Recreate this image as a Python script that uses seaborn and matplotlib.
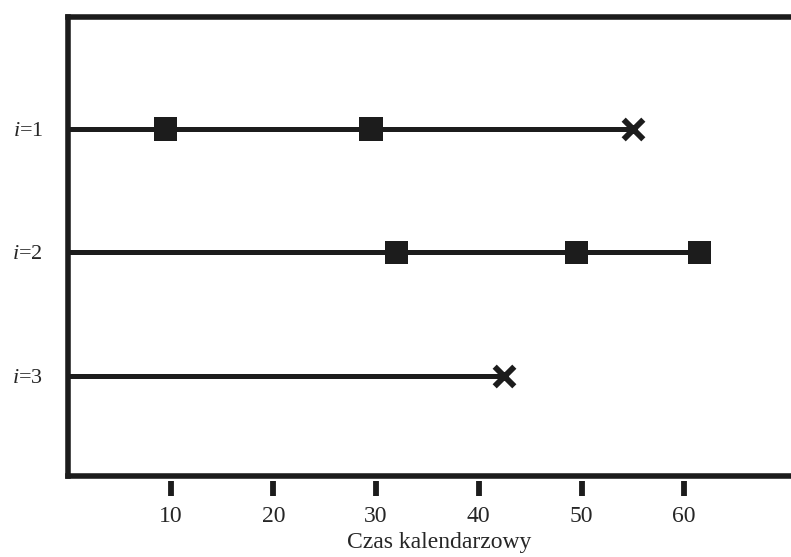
import matplotlib
matplotlib.use("Agg")
import matplotlib.pyplot as plt
import seaborn as sns
import pandas as pd

# Observation histories of three units on calendar time
units = ["$i$=1", "$i$=2", "$i$=3"]
rows = [1, 2, 3]
end_times = [55.0, 61.5, 42.5]              # end of each observed history
event_times = [[9.5, 29.5], [32.0, 49.5, 61.5], []]   # failures (squares)
censor_times = [55.0, None, 42.5]            # censoring (crosses)
x_ticks = [10, 20, 30, 40, 50, 60]
x_label = "Czas kalendarzowy"

sns.set_theme(style="white")
plt.rcParams["font.family"] = ["Liberation Serif", "DejaVu Serif"]
plt.rcParams["mathtext.fontset"] = "custom"
plt.rcParams["mathtext.it"] = "Liberation Serif:italic"
plt.rcParams["mathtext.rm"] = "Liberation Serif"

ink = "#1c1c1c"

seg = pd.DataFrame({
    "t": [v for e in end_times for v in (0.0, e)],
    "row": [r for r in rows for _ in range(2)],
})
ev = pd.DataFrame({
    "t": [t for ts in event_times for t in ts],
    "row": [r for r, ts in zip(rows, event_times) for _ in ts],
})
cz = pd.DataFrame({
    "t": [c for c in censor_times if c is not None],
    "row": [r for r, c in zip(rows, censor_times) if c is not None],
})

fig = plt.figure(figsize=(7.91, 5.57), dpi=100)
ax = fig.add_axes([68 / 791, 1 - 476 / 557, (810 - 68) / 791, (476 - 17) / 557])

sns.lineplot(data=seg, x="t", y="row", units="row", estimator=None,
             color=ink, lw=3.6, ax=ax, legend=False, sort=False)
sns.scatterplot(data=ev, x="t", y="row", marker="s", s=280, color=ink,
                edgecolor="none", ax=ax, legend=False, zorder=5)
sns.scatterplot(data=cz, x="t", y="row", marker="x", s=200, color=ink,
                linewidth=4.2, ax=ax, legend=False, zorder=5)

ax.set_xlim(0, (810 - 68) / 10.27)
ax.set_ylim(3.81, 0.093)

for side in ["left", "bottom", "top"]:
    ax.spines[side].set_visible(True)
    ax.spines[side].set_color(ink)
    ax.spines[side].set_linewidth(4.0)
ax.spines["right"].set_visible(False)

ax.set_yticks(rows)
ax.set_yticklabels(units, fontsize=16)
ax.tick_params(axis="y", length=0, pad=18)
ax.set_ylabel("")

ax.set_xticks([])
ax.set_xlabel("")
sec = ax.secondary_xaxis(-0.010)
sec.set_xticks(x_ticks)
sec.tick_params(axis="x", direction="out", length=11, width=4.2, color=ink,
                labelsize=17, pad=7)
sec.spines["bottom"].set_visible(False)
sec.set_xlabel(x_label, fontsize=17, labelpad=4)

fig.savefig("out.png", dpi=100, facecolor="white")
